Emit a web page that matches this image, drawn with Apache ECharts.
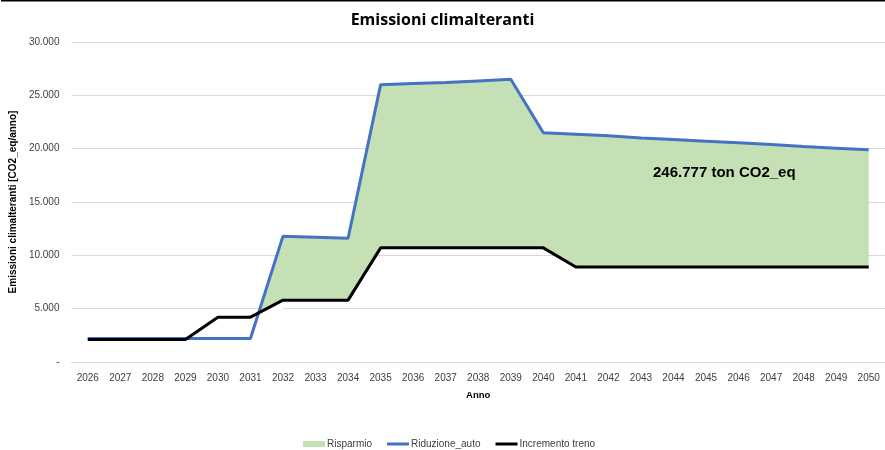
<!DOCTYPE html>
<html>
<head>
<meta charset="utf-8">
<script src="https://cdn.jsdelivr.net/npm/echarts@6/dist/echarts.min.js"></script>
<style>html,body{margin:0;padding:0;background:#fff}#c{width:885px;height:450px}</style>
</head>
<body>
<div id="c"></div>
<script>
var years = ['2026','2027','2028','2029','2030','2031','2032','2033','2034','2035','2036','2037','2038','2039','2040','2041','2042','2043','2044','2045','2046','2047','2048','2049','2050'];
var riduzioneAuto = [2200,2200,2200,2200,2200,2200,11800,11700,11600,26000,26100,26200,26350,26500,21500,21350,21200,21000,20850,20700,20550,20400,20200,20050,19900];
var incrementoTreno = [2100,2100,2100,2100,4200,4200,5800,5800,5800,10700,10700,10700,10700,10700,10700,8900,8900,8900,8900,8900,8900,8900,8900,8900,8900];
var yTicks = [0,5000,10000,15000,20000,25000,30000];

// green band between the two lines (top = Riduzione_auto, bottom = Incremento treno)
var risparmio = riduzioneAuto.map(function(v,i){ return v - incrementoTreno[i]; });
// white mask where the train line lies above the car line (the band is not a saving there)
var maskIdx = [3,4,5,6];
var mask = incrementoTreno.map(function(v,i){ return maskIdx.indexOf(i) >= 0 ? v : null; });

function fmt(v){ if (v === 0) return '-'; return String(v).replace(/\B(?=(\d{3})+(?!\d))/g,'.'); }

var linePath = 'path://M0,0H22V0.01H0ZM0,1.5H22V4.5H0ZM0,5.99H22V6H0Z';

var chart = echarts.init(document.getElementById('c'), null, {renderer:'canvas'});
chart.setOption({
  animation:false,
  backgroundColor:'#fff',
  title:{text:'Emissioni climalteranti', left:'center', top:7,
    textStyle:{fontFamily:'Open Sans', fontWeight:'bold', fontSize:16, color:'#000'}},
  grid:{left:69, top:42, width:819, height:320},
  legend:{
    left:298, top:434, itemGap:15, itemWidth:22, itemHeight:6,
    textStyle:{fontFamily:'Liberation Sans', fontSize:10, color:'#404040', padding:[0,0,0,-3]},
    data:[
      {name:'Risparmio', icon:'rect', itemStyle:{color:'#c5e0b4'}},
      {name:'Riduzione_auto', icon:linePath, itemStyle:{color:'#4472c4'}},
      {name:'Incremento treno', icon:linePath, itemStyle:{color:'#000'}}
    ]
  },
  xAxis:{type:'category', data:years, boundaryGap:true,
    name:'Anno', nameLocation:'middle', nameGap:28,
    nameTextStyle:{fontFamily:'Liberation Sans', fontWeight:'bold', fontSize:9.5, color:'#000'},
    axisLine:{show:true, lineStyle:{color:'#d9d9d9'}}, axisTick:{show:false},
    axisLabel:{fontFamily:'Liberation Sans', fontSize:10, color:'#404040', margin:11}},
  yAxis:{type:'value', min:0, max:30000, interval:5000,
    name:'Emissioni climalteranti [CO2_eq/anno]', nameLocation:'middle', nameGap:52,
    nameTextStyle:{fontFamily:'Liberation Sans', fontWeight:'bold', fontSize:10, color:'#000'},
    axisLine:{show:false}, axisTick:{show:false},
    splitLine:{lineStyle:{color:'#d9d9d9'}},
    axisLabel:{fontFamily:'Liberation Sans', fontSize:10, color:'#404040', margin:12,
      formatter:function(v){ return yTicks.indexOf(v) >= 0 ? fmt(v) : ''; }}},
  series:[
    {name:'base', type:'line', stack:'a', stackStrategy:'all', data:incrementoTreno, symbol:'none',
      lineStyle:{width:0, opacity:0}, silent:true, z:1},
    {name:'Risparmio', type:'line', stack:'a', stackStrategy:'all', data:risparmio, symbol:'none',
      lineStyle:{width:0, opacity:0}, itemStyle:{color:'#c5e0b4'},
      areaStyle:{color:'#c5e0b4', opacity:1}, z:2},
    {name:'mask', type:'line', data:mask, symbol:'none', silent:true,
      lineStyle:{width:0, opacity:0}, areaStyle:{color:'#fff', opacity:1, origin:1000}, z:3},
    {name:'Riduzione_auto', type:'line', data:riduzioneAuto, symbol:'none',
      itemStyle:{color:'#4472c4'}, lineStyle:{color:'#4472c4', width:3}, z:4},
    {name:'Incremento treno', type:'line', data:incrementoTreno, symbol:'none',
      itemStyle:{color:'#000'}, lineStyle:{color:'#000', width:3}, z:5}
  ],
  graphic:[
    {type:'rect', z:100, shape:{x:1, y:0, width:884, height:1.5}, style:{fill:'#000'}},
    {type:'text', z:100, left:653, top:165, style:{text:'246.777 ton CO2_eq',
      font:'bold 15px "Liberation Sans"', fill:'#000'}}
  ]
});
</script>
</body>
</html>
